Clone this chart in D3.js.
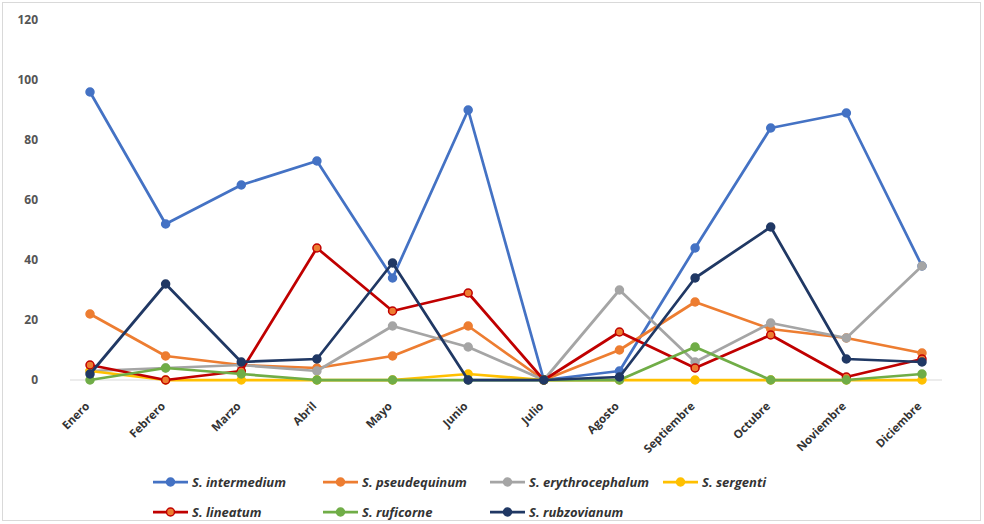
<!DOCTYPE html>
<html>
<head>
<meta charset="utf-8">
<script src="https://cdn.jsdelivr.net/npm/d3@7"></script>
<style>
  html, body { margin: 0; padding: 0; background: #fff; }
  svg { display: block; }
</style>
</head>
<body>
<svg id="chart" width="984" height="524"></svg>
<script>
// Monthly counts per Simulium species
const months = ["Enero", "Febrero", "Marzo", "Abril", "Mayo", "Junio", "Julio",
                "Agosto", "Septiembre", "Octubre", "Noviembre", "Diciembre"];
const yTicks = [0, 20, 40, 60, 80, 100, 120];

const intermedium     = [96, 52, 65, 73, 34, 90, 0, 3, 44, 84, 89, 38];
const pseudequinum    = [22, 8, 5, 4, 8, 18, 0, 10, 26, 17, 14, 9];
const erythrocephalum = [3, 4, 5, 3, 18, 11, 0, 30, 6, 19, 14, 38];
const sergenti        = [3, 0, 0, 0, 0, 2, 0, 0, 0, 0, 0, 0];
const lineatum        = [5, 0, 3, 44, 23, 29, 0, 16, 4, 15, 1, 7];
const ruficorne       = [0, 4, 2, 0, 0, 0, 0, 0, 11, 0, 0, 2];
const rubzovianum     = [2, 32, 6, 7, 39, 0, 0, 1, 34, 51, 7, 6];

const seriesNames = ["S. intermedium", "S. pseudequinum", "S. erythrocephalum", "S. sergenti",
                     "S. lineatum", "S. ruficorne", "S. rubzovianum"];
const seriesValues = [intermedium, pseudequinum, erythrocephalum, sergenti,
                      lineatum, ruficorne, rubzovianum];
const lineColors   = ["#4472C4", "#ED7D31", "#A5A5A5", "#FFC000", "#C00000", "#70AD47", "#203864"];
const markerFills  = ["#4472C4", "#ED7D31", "#A5A5A5", "#FFC000", "#ED7D31", "#70AD47", "#203864"];

const series = seriesNames.map((name, i) => ({
  name, values: seriesValues[i], color: lineColors[i], fill: markerFills[i]
}));

const FONT = "'Open Sans', Lato, sans-serif";
const svg = d3.select("#chart");

// outer frame
svg.append("rect")
  .attr("x", 2.5).attr("y", 2.5).attr("width", 978).attr("height", 518)
  .attr("fill", "#fff").attr("stroke", "#d9d9d9").attr("stroke-width", 1);

const x = d3.scalePoint().domain(months).range([90, 922]);
const y = d3.scaleLinear().domain([0, 120]).range([380, 20]);

// value axis labels (no axis line)
const yAxis = svg.append("g").attr("transform", "translate(38,0)")
  .call(d3.axisLeft(y).tickValues(yTicks).tickSize(0).tickPadding(0));
yAxis.select(".domain").remove();
yAxis.selectAll("text")
  .attr("font-family", FONT)
  .attr("font-size", 12).attr("font-weight", "bold").attr("fill", "#555");

// category baseline
svg.append("line")
  .attr("x1", 70).attr("x2", 942).attr("y1", y(0)).attr("y2", y(0))
  .attr("stroke", "#d9d9d9").attr("stroke-width", 1);

// category labels, rotated
const xAxis = svg.append("g").attr("transform", `translate(0,${y(0)})`)
  .call(d3.axisBottom(x).tickSize(0).tickPadding(0));
xAxis.select(".domain").remove();
xAxis.selectAll("text")
  .attr("font-family", FONT)
  .attr("font-size", 11.5).attr("font-weight", "bold").attr("fill", "#333")
  .attr("text-anchor", "end")
  .attr("dy", "0.35em")
  .attr("transform", "translate(-3,24) rotate(-45)");

// lines + markers
const line = d3.line().x((d, i) => x(months[i])).y(d => y(d));

const g = svg.append("g");
series.forEach(s => {
  const sg = g.append("g");
  sg.append("path")
    .attr("d", line(s.values))
    .attr("fill", "none").attr("stroke", s.color)
    .attr("stroke-width", 2.75).attr("stroke-linejoin", "round");
  sg.selectAll("circle").data(s.values).join("circle")
    .attr("cx", (d, i) => x(months[i])).attr("cy", d => y(d))
    .attr("r", 4)
    .attr("fill", s.fill).attr("stroke", s.color).attr("stroke-width", 1.5);
});

// legend
const legendCols = [153, 323, 490, 663];
const legendRows = [482, 512];
const legendPos = [[0,0],[1,0],[2,0],[3,0],[0,1],[1,1],[2,1]];
const lg = svg.append("g");
series.forEach((s, i) => {
  const [c, r] = legendPos[i];
  const lx = legendCols[c], ly = legendRows[r];
  const item = lg.append("g").attr("transform", `translate(${lx},${ly})`);
  item.append("line").attr("x1", 0).attr("x2", 35).attr("y1", 0).attr("y2", 0)
    .attr("stroke", s.color).attr("stroke-width", 2.75);
  item.append("circle").attr("cx", 17.5).attr("cy", 0).attr("r", 4)
    .attr("fill", s.fill).attr("stroke", s.color).attr("stroke-width", 1.5);
  item.append("text").attr("x", 39).attr("y", 0).attr("dy", "0.35em")
    .attr("font-family", FONT)
    .attr("font-size", 13).attr("font-weight", "bold").attr("font-style", "italic")
    .attr("fill", "#333")
    .text(s.name);
});
</script>
</body>
</html>
